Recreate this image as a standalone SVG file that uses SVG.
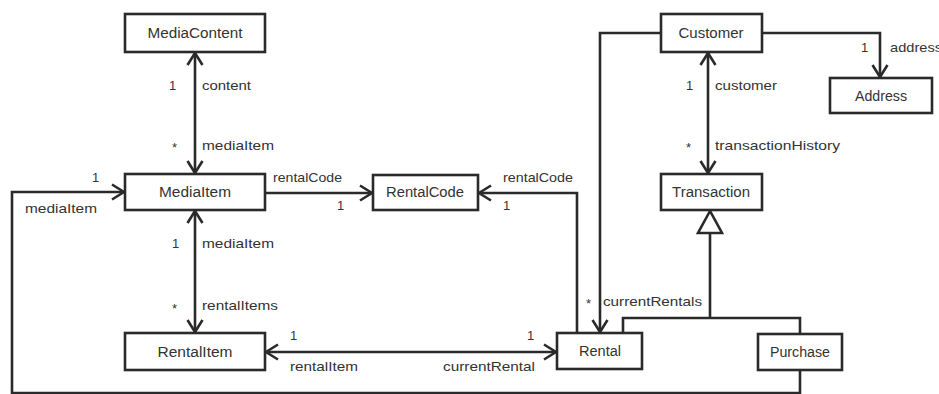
<svg xmlns="http://www.w3.org/2000/svg" width="939" height="394" viewBox="0 0 939 394">
  <style>
    .box { fill: #ffffff; stroke: #2a2a2a; stroke-width: 2.6; }
    .name { font-family: "Liberation Sans Narrow", "Liberation Sans", sans-serif; font-size: 14px; fill: #333; text-anchor: middle; }
    .lbl { font-family: "Liberation Sans Narrow", "Liberation Sans", sans-serif; font-size: 13px; fill: #333; }
    .wire { fill: none; stroke: #2a2a2a; stroke-width: 2.6; }
  </style>
  <defs>
    <marker id="open" viewBox="-14 -9 16 18" refX="0" refY="0" markerWidth="16" markerHeight="18" markerUnits="userSpaceOnUse" orient="auto-start-reverse">
      <path d="M -12 -7.5 L 0 0 L -12 7.5" fill="none" stroke="#2a2a2a" stroke-width="2.6"/>
    </marker>
  </defs>
  <rect width="939" height="394" fill="#ffffff"/>

  <!-- associations and generalization -->
  <g id="connectors">
    <line class="wire" x1="195" y1="53" x2="195" y2="173" marker-start="url(#open)" marker-end="url(#open)"/>
    <line class="wire" x1="195" y1="211" x2="195" y2="332" marker-start="url(#open)" marker-end="url(#open)"/>
    <line class="wire" x1="265" y1="193" x2="372" y2="193" marker-end="url(#open)"/>
    <path class="wire" d="M577,333 V193 H479" marker-end="url(#open)"/>
    <path class="wire" d="M661,33 H600 V332" marker-end="url(#open)"/>
    <path class="wire" d="M762,33 H880 V77" marker-end="url(#open)"/>
    <line class="wire" x1="708" y1="53" x2="708" y2="173" marker-start="url(#open)" marker-end="url(#open)"/>
    <line class="wire" x1="266" y1="352" x2="556" y2="352" marker-start="url(#open)" marker-end="url(#open)"/>
    <path class="wire" d="M800,370 V393 H12 V192 H124" marker-end="url(#open)"/>
    <path class="wire" d="M623,333 V318 H800 V334"/>
    <line class="wire" x1="710" y1="318" x2="710" y2="233"/>
    <polygon points="710,211 698,233 722,233" fill="#ffffff" stroke="#2a2a2a" stroke-width="2.6"/>

    <text class="lbl" x="169" y="90">1</text>
    <text class="lbl" x="202" y="90" textLength="49" lengthAdjust="spacingAndGlyphs">content</text>
    <text class="lbl" x="172" y="152">*</text>
    <text class="lbl" x="202" y="150" textLength="72" lengthAdjust="spacingAndGlyphs">mediaItem</text>
    <text class="lbl" x="92" y="182">1</text>
    <text class="lbl" x="25" y="213" textLength="72" lengthAdjust="spacingAndGlyphs">mediaItem</text>
    <text class="lbl" x="172" y="248">1</text>
    <text class="lbl" x="202" y="248" textLength="72" lengthAdjust="spacingAndGlyphs">mediaItem</text>
    <text class="lbl" x="172" y="313">*</text>
    <text class="lbl" x="202" y="310" textLength="76" lengthAdjust="spacingAndGlyphs">rentalItems</text>
    <text class="lbl" x="273" y="182" textLength="69" lengthAdjust="spacingAndGlyphs">rentalCode</text>
    <text class="lbl" x="337" y="210">1</text>
    <text class="lbl" x="503" y="182" textLength="70" lengthAdjust="spacingAndGlyphs">rentalCode</text>
    <text class="lbl" x="503" y="210">1</text>
    <text class="lbl" x="686" y="90">1</text>
    <text class="lbl" x="715" y="90" textLength="62" lengthAdjust="spacingAndGlyphs">customer</text>
    <text class="lbl" x="686" y="152">*</text>
    <text class="lbl" x="715" y="150" textLength="125" lengthAdjust="spacingAndGlyphs">transactionHistory</text>
    <text class="lbl" x="861" y="52">1</text>
    <text class="lbl" x="890" y="52" textLength="52" lengthAdjust="spacingAndGlyphs">address</text>
    <text class="lbl" x="586" y="308">*</text>
    <text class="lbl" x="603" y="306" textLength="99" lengthAdjust="spacingAndGlyphs">currentRentals</text>
    <text class="lbl" x="290" y="340">1</text>
    <text class="lbl" x="290" y="371" textLength="68" lengthAdjust="spacingAndGlyphs">rentalItem</text>
    <text class="lbl" x="527" y="340">1</text>
    <text class="lbl" x="443" y="371" textLength="92" lengthAdjust="spacingAndGlyphs">currentRental</text>
  </g>

  <g id="MediaContent">
    <rect class="box" x="125" y="14" width="140" height="38"/>
    <text class="name" x="195" y="38" textLength="95" lengthAdjust="spacingAndGlyphs">MediaContent</text>
  </g>
  <g id="MediaItem">
    <rect class="box" x="125" y="174" width="140" height="36"/>
    <text class="name" x="195" y="197" textLength="72" lengthAdjust="spacingAndGlyphs">MediaItem</text>
  </g>
  <g id="RentalItem">
    <rect class="box" x="125" y="333" width="140" height="37"/>
    <text class="name" x="195" y="357" textLength="75" lengthAdjust="spacingAndGlyphs">RentalItem</text>
  </g>
  <g id="RentalCode">
    <rect class="box" x="373" y="175" width="105" height="35"/>
    <text class="name" x="425" y="197" textLength="78" lengthAdjust="spacingAndGlyphs">RentalCode</text>
  </g>
  <g id="Customer">
    <rect class="box" x="661" y="14" width="101" height="38"/>
    <text class="name" x="711" y="38" textLength="65" lengthAdjust="spacingAndGlyphs">Customer</text>
  </g>
  <g id="Address">
    <rect class="box" x="830" y="78" width="102" height="35"/>
    <text class="name" x="881" y="101" textLength="52" lengthAdjust="spacingAndGlyphs">Address</text>
  </g>
  <g id="Transaction">
    <rect class="box" x="661" y="174" width="101" height="36"/>
    <text class="name" x="711" y="197" textLength="78" lengthAdjust="spacingAndGlyphs">Transaction</text>
  </g>
  <g id="Rental">
    <rect class="box" x="557" y="333" width="85" height="36"/>
    <text class="name" x="600" y="356" textLength="42" lengthAdjust="spacingAndGlyphs">Rental</text>
  </g>
  <g id="Purchase">
    <rect class="box" x="758" y="334" width="84" height="36"/>
    <text class="name" x="800" y="357" textLength="60" lengthAdjust="spacingAndGlyphs">Purchase</text>
  </g>
</svg>
